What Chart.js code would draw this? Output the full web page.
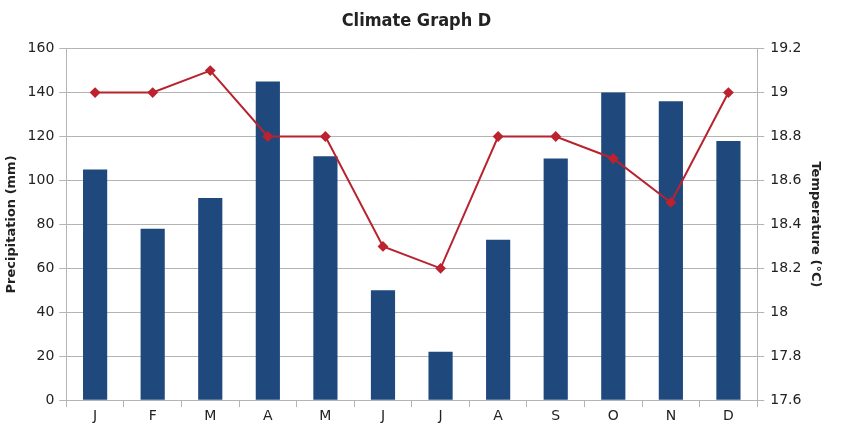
<!DOCTYPE html>
<html>
<head>
<meta charset="utf-8">
<script src="https://cdn.jsdelivr.net/npm/chart.js@4"></script>
<style>
  html, body { margin: 0; padding: 0; background: #fff; }
  #wrap { width: 843px; height: 426px; }
</style>
</head>
<body>
<div id="wrap"><canvas id="climateChart" width="843" height="426"></canvas></div>
<script>
const months = ['J', 'F', 'M', 'A', 'M', 'J', 'J', 'A', 'S', 'O', 'N', 'D'];
const precipitation = [105, 78, 92, 145, 111, 50, 22, 73, 110, 140, 136, 118];
const temperature = [19, 19, 19.1, 18.8, 18.8, 18.3, 18.2, 18.8, 18.8, 18.7, 18.5, 19];

const textColor = '#222';
const gridColor = '#b4b4b4';
const baseFont = { family: "'DejaVu Sans', sans-serif", size: 14 };

const data = {
    labels: months,
    datasets: [{
        type: 'line',
        label: 'Temperature',
        data: temperature,
        yAxisID: 'yTemp',
        borderColor: '#b8232f',
        borderWidth: 2,
        pointStyle: 'rectRot',
        pointRadius: 4,
        pointBackgroundColor: '#c4202e',
        pointBorderColor: '#b8232f',
        tension: 0,
        order: 0
    }, {
        type: 'bar',
        label: 'Precipitation',
        data: precipitation,
        yAxisID: 'yPrecip',
        backgroundColor: '#1f497d',
        barPercentage: 0.42,
        categoryPercentage: 1,
        order: 1
    }]
};

const config = {
    data,
    options: {
        responsive: false,
        animation: false,
        layout: { padding: { top: 5, left: 4, right: 14, bottom: 0 } },
        plugins: {
            legend: { display: false },
            tooltip: { enabled: false },
            title: {
                display: true,
                text: 'Climate Graph D',
                color: textColor,
                font: { family: "'DejaVu Sans Condensed', 'DejaVu Sans', sans-serif", size: 18, weight: 'bold' },
                padding: { top: 6, bottom: 16 }
            }
        },
        scales: {
            x: {
                offset: true,
                grid: {
                    offset: true,
                    drawOnChartArea: false,
                    drawTicks: true,
                    tickLength: 7,
                    color: gridColor
                },
                border: { color: gridColor },
                ticks: { color: textColor, font: baseFont, padding: 1 }
            },
            yPrecip: {
                position: 'left',
                min: 0,
                max: 160,
                ticks: { stepSize: 20, color: textColor, font: baseFont, padding: 5 },
                grid: { color: gridColor, tickLength: 7 },
                border: { color: gridColor },
                title: {
                    display: true,
                    text: 'Precipitation (mm)',
                    color: textColor,
                    font: { family: "'DejaVu Sans', sans-serif", size: 13, weight: 'bold' },
                    padding: { top: 0, bottom: 3 }
                }
            },
            yTemp: {
                position: 'right',
                min: 17.6,
                max: 19.2,
                ticks: {
                    stepSize: 0.2,
                    color: textColor,
                    font: baseFont,
                    padding: 6,
                    callback: v => String(parseFloat(v.toFixed(1)))
                },
                grid: { drawOnChartArea: false, color: gridColor, tickLength: 7 },
                border: { color: gridColor },
                title: {
                    display: true,
                    text: 'Temperature (°C)',
                    color: textColor,
                    font: { family: "'DejaVu Sans', sans-serif", size: 13, weight: 'bold' },
                    padding: { top: 6, bottom: 0 }
                }
            }
        }
    }
};

new Chart(document.getElementById('climateChart'), config);
</script>
</body>
</html>
